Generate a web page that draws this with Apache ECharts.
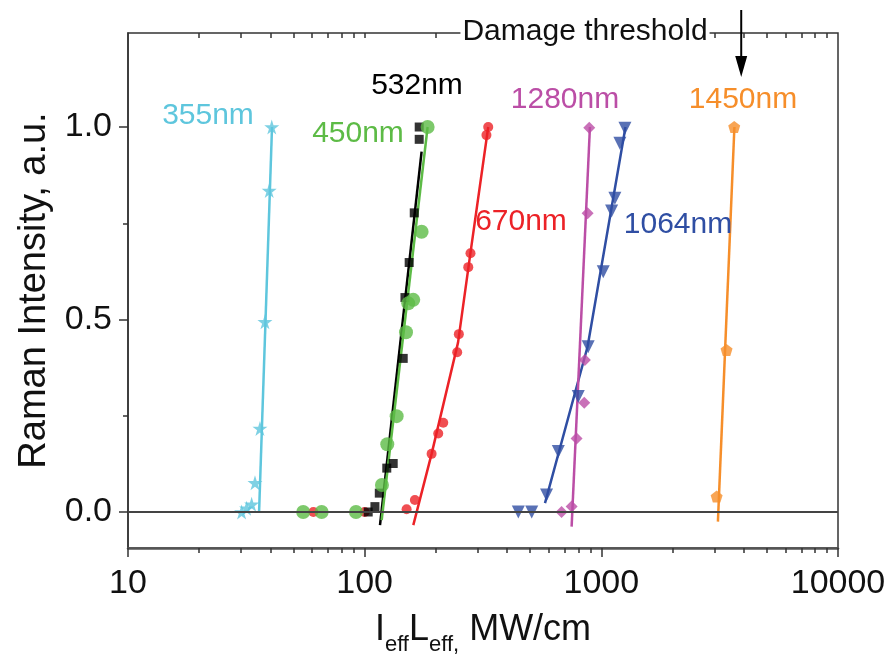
<!DOCTYPE html>
<html><head><meta charset="utf-8">
<script src="https://cdn.jsdelivr.net/npm/echarts@6/dist/echarts.min.js"></script>
<style>html,body{margin:0;padding:0;background:#fff}#c{width:889px;height:657px}</style>
</head><body><div id="c"></div>
<script>
// ---- data ----
const x355 = [30.2, 31.7, 33.3, 34.4, 36.1, 37.9, 39.5, 40.5];
const y355 = [0.0, 0.01, 0.02, 0.076, 0.217, 0.494, 0.835, 1.0];
const fit355x = [35.8, 40.6];
const fit355y = [0.0, 1.0];

const x670 = [60.7, 100, 150.4, 163, 191.8, 204.6, 214.8, 246, 250, 274, 280, 327, 332.7];
const y670 = [0, 0, 0.007, 0.031, 0.151, 0.204, 0.232, 0.415, 0.462, 0.636, 0.672, 0.979, 1.0];
const fit670x = [160.5, 191.8, 248, 278, 332.7];
const fit670y = [-0.034, 0.151, 0.44, 0.66, 1.0];

const x532 = [103.5, 110.5, 115.3, 124, 132, 145.5, 148, 154.2, 162, 170, 170];
const y532 = [0, 0.014, 0.049, 0.114, 0.126, 0.399, 0.557, 0.648, 0.777, 0.968, 1.0];
const fit532x = [116.1, 174];
const fit532y = [-0.034, 0.936];

const x450 = [55.0, 65.8, 91.9, 118.3, 124.6, 136.5, 149.5, 152.8, 160.4, 174, 184.5];
const y450 = [0, 0, 0, 0.070, 0.176, 0.249, 0.467, 0.542, 0.551, 0.728, 1.0];
const fit450x = [118, 184.5];
const fit450y = [-0.021, 1.0];

const x1064 = [446, 508, 587, 658, 799, 880, 1019, 1105, 1141, 1198, 1258];
const y1064 = [0, 0, 0.044, 0.157, 0.30, 0.429, 0.624, 0.782, 0.815, 0.958, 0.997];
const fit1064x = [578, 875, 1265];
const fit1064y = [0.023, 0.43, 1.0];

const x1280 = [679, 749, 786, 847, 852, 875, 889];
const y1280 = [0, 0.014, 0.191, 0.284, 0.395, 0.776, 0.998];
const fit1280x = [749, 895];
const fit1280y = [-0.038, 1.0];

const x1450 = [3070, 3381, 3643];
const y1450 = [0.04, 0.421, 1.0];
const fit1450x = [3109, 3650];
const fit1450y = [-0.025, 1.0];

const damageX = 3900;
const xTickValues = [10, 100, 1000, 10000];
const xTickLabels = ['10', '100', '1000', '10000'];
const xTopTicks = [20,30,40,50,60,70,80,90,100,200,300,400,500,600,700,800,900,1000,2000,3000,4000,5000,6000,7000,8000,9000];
const yTickLabels = [0.0, 0.5, 1.0];
const yMinorTicks = [0.25, 0.75];
const seriesNames = ['355nm', '670nm', '532nm', '450nm', '1064nm', '1280nm', '1450nm'];

// ---- styling ----
const F = "'Liberation Sans', Arial, Helvetica, sans-serif";
const C = {c355:'#5ec6dd', c670:'#ec2227', c532:'#000000', c450:'#5dbb46', c1064:'#2f4ea3', c1280:'#bb4ea6', c1450:'#f68e2a'};
const STAR = 'path://M50,0 L61,35 L98,35 L68,57 L79,91 L50,70 L21,91 L32,57 L2,35 L39,35 Z';
const PENT = 'path://M50,0 L98,36 L80,95 L20,95 L2,36 Z';
const zip = (a, b) => a.map((v, i) => [v, b[i]]);
const log10 = v => Math.log(v) / Math.LN10;
const YMIN = -0.0935, YMAX = 1.2442;

function scat(name, xs, ys, color, symbol, size, rot) {
  return {name, type:'scatter', data: zip(xs, ys), symbol, symbolSize:size, symbolRotate: rot||0,
    itemStyle:{color}, z:3, silent:true};
}
function fit(name, xs, ys, color) {
  return {name: name + ' fit', type:'line', data: zip(xs, ys), symbol:'none', lineStyle:{color, width:2.5},
    z:2, silent:true, clip:true};
}
function labelFor(v) {
  const i = xTickValues.findIndex(t => Math.abs(log10(t) - log10(v)) < 1e-6);
  return i >= 0 ? xTickLabels[i] : '';
}

const chart = echarts.init(document.getElementById('c'), null, {renderer:'canvas'});
const option = {
  animation:false,
  backgroundColor:'#fff',
  grid:{left:128, right:51, top:33, bottom:109, containLabel:false, outerBoundsMode:'none',
        show:true, borderColor:'#333', borderWidth:1.5, backgroundColor:'transparent'},
  xAxis:[
    {type:'log', logBase:10, min:10, max:10000, position:'bottom',
     axisLine:{show:true, onZero:false, lineStyle:{color:'#555', width:2.5}},
     axisTick:{show:true, inside:false, length:9, lineStyle:{color:'#333', width:1.5}},
     minorTick:{show:true, splitNumber:9, length:5, lineStyle:{color:'#333', width:1.5}},
     axisLabel:{show:true, fontSize:34, fontFamily:F, color:'#111', margin:19, formatter: labelFor},
     splitLine:{show:false},
     name:'{n|I}{s|eff}{n|L}{s|eff,}{n| MW/cm}', nameLocation:'middle', nameGap:64,
     nameTextStyle:{rich:{
       n:{fontSize:36, fontFamily:F, color:'#111', lineHeight:44, verticalAlign:'top'},
       s:{fontSize:22, fontFamily:F, color:'#111', lineHeight:22, verticalAlign:'bottom'}}}},
    {type:'value', min:1, max:4, position:'top', axisLine:{show:false, onZero:false},
     axisTick:{show:true, inside:true, length:5, customValues: xTopTicks.map(log10), lineStyle:{color:'#333', width:1.5}},
     axisLabel:{show:false}, splitLine:{show:false}}
  ],
  yAxis:[
    {type:'value', min:YMIN, max:YMAX, position:'left',
     axisLine:{show:true, onZero:false, lineStyle:{color:'#333', width:1.5}},
     axisTick:{show:true, inside:false, length:9, customValues: yTickLabels, lineStyle:{color:'#333', width:1.5}},
     axisLabel:{show:true, customValues: yTickLabels, formatter: v => v.toFixed(1), fontSize:34, fontFamily:F, color:'#111', margin:16},
     splitLine:{show:false},
     name:'Raman Intensity, a.u.', nameLocation:'middle', nameGap:70,
     nameTextStyle:{fontSize:38, fontFamily:F, color:'#111'}},
    {type:'value', min:YMIN, max:YMAX, position:'left', axisLine:{show:false, onZero:false},
     axisTick:{show:true, inside:false, length:5, customValues: yMinorTicks, lineStyle:{color:'#333', width:1.5}},
     axisLabel:{show:false}, splitLine:{show:false}}
  ],
  series:[
    {name:'baseline', type:'line', data:[], z:1, silent:true,
     markLine:{silent:true, symbol:['none','none'], label:{show:false}, lineStyle:{color:'#444', width:2, type:'solid'},
       data:[{yAxis:0}]}},
    fit(seriesNames[0], fit355x, fit355y, C.c355),
    scat(seriesNames[0], x355, y355, C.c355, STAR, 15),
    fit(seriesNames[1], fit670x, fit670y, C.c670),
    scat(seriesNames[1], x670, y670, C.c670, 'circle', 10),
    fit(seriesNames[2], fit532x, fit532y, C.c532),
    scat(seriesNames[2], x532, y532, C.c532, 'rect', 9),
    fit(seriesNames[3], fit450x, fit450y, C.c450),
    scat(seriesNames[3], x450, y450, C.c450, 'circle', 14),
    fit(seriesNames[4], fit1064x, fit1064y, C.c1064),
    scat(seriesNames[4], x1064, y1064, C.c1064, 'triangle', 13, 180),
    fit(seriesNames[5], fit1280x, fit1280y, C.c1280),
    scat(seriesNames[5], x1280, y1280, C.c1280, 'diamond', 12),
    fit(seriesNames[6], fit1450x, fit1450y, C.c1450),
    scat(seriesNames[6], x1450, y1450, C.c1450, PENT, 12)
  ]
};
chart.setOption(option);

// annotations
const labelPos = [
  {t:seriesNames[0], c:C.c355, x:208, y:116},
  {t:seriesNames[3], c:C.c450, x:358, y:134},
  {t:seriesNames[2], c:C.c532, x:417, y:86},
  {t:seriesNames[1], c:C.c670, x:521, y:222},
  {t:seriesNames[4], c:C.c1064, x:678, y:225},
  {t:seriesNames[5], c:C.c1280, x:565, y:100},
  {t:seriesNames[6], c:C.c1450, x:743, y:100}
];
const ax = chart.convertToPixel({xAxisIndex:0}, damageX);
const gr = labelPos.map(l => ({type:'text', z:100, x:l.x, y:l.y,
  style:{text:l.t, fill:l.c, fontSize:30, fontFamily:F, align:'center', verticalAlign:'middle'}}));
gr.push({type:'text', z:100, x:585, y:32,
  style:{text:'Damage threshold', fill:'#111', fontSize:30, fontFamily:F, align:'center', verticalAlign:'middle',
    backgroundColor:'#fff', padding:[0,2,0,2]}});
gr.push({type:'line', z:101, shape:{x1:ax, y1:10, x2:ax, y2:60}, style:{stroke:'#000', lineWidth:2}});
gr.push({type:'polygon', z:101, shape:{points:[[ax-6,56],[ax+6,56],[ax,77]]}, style:{fill:'#000'}});
chart.setOption({graphic: gr});
</script></body></html>
